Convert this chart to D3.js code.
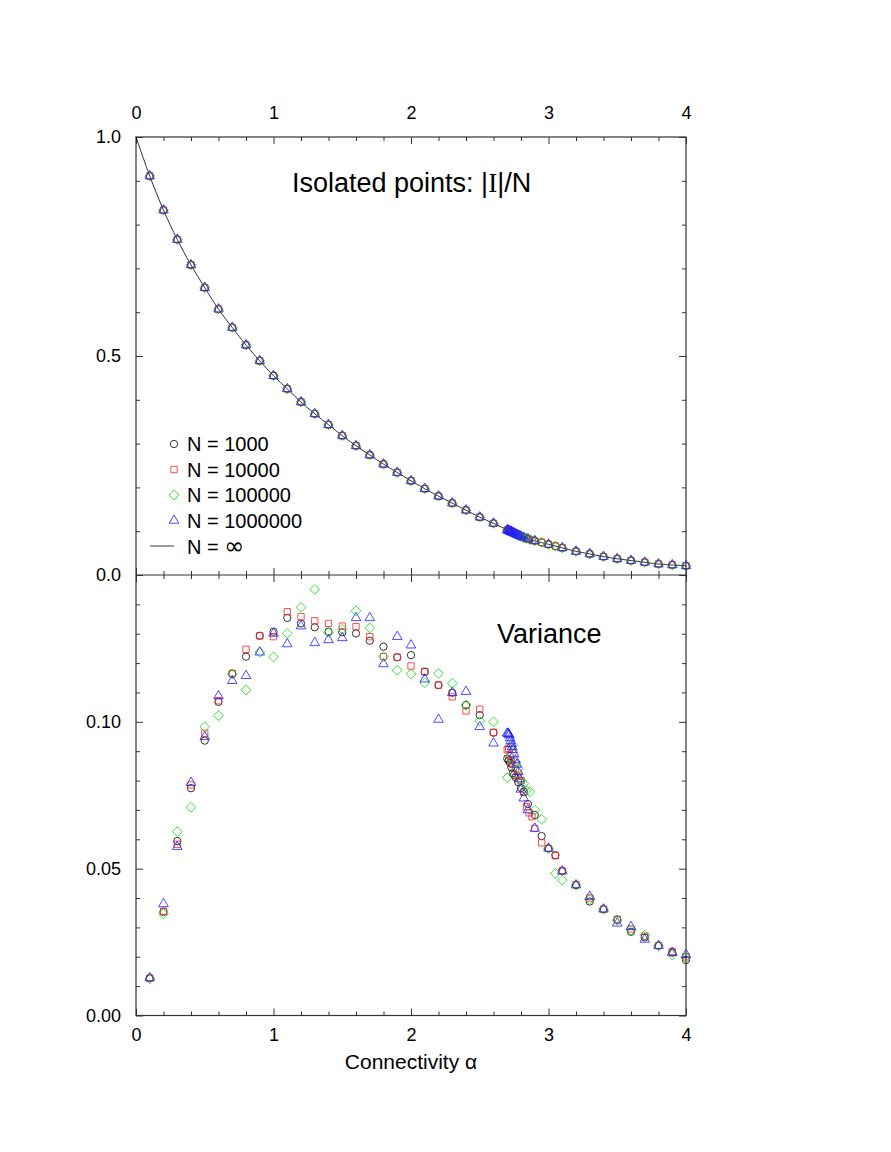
<!DOCTYPE html>
<html><head><meta charset="utf-8">
<script src="https://cdn.jsdelivr.net/npm/d3@7"></script>
<style>
body{margin:0;background:#fff}
svg{display:block}
text{font-family:"Liberation Sans",Arial,Helvetica,sans-serif;fill:#000}
</style>
</head><body>
<svg id="c" width="891" height="1152"></svg>
<script>
// ---------- DATA ----------
const alphaBase = [0.1,0.2,0.3,0.4,0.5,0.6,0.7,0.8,0.9,1.0,1.1,1.2,1.3,1.4,1.5,1.6,1.7,1.8,1.9,2.0,
                   2.1,2.2,2.3,2.4,2.5,2.6,2.7,2.8,2.9,3.0,3.1,3.2,3.3,3.4,3.5,3.6,3.7,3.8,3.9,4.0];
const isolatedBase = [.911,.833,.766,.708,.656,.607,.565,.525,.489,.455,.425,.395,.368,.343,.318,.295,.274,.253,.234,.215,
                      .197,.180,.164,.148,.132,.118,.103,.088,.078,.070,.062,.054,.048,.042,.037,.033,.029,.025,.023,.021];
const varN1e3 = [.0127,.0353,.0594,.0774,.0936,.1068,.1163,.1222,.1293,.1307,.1354,.1335,.1322,.1307,.1305,.1301,.1276,.1256,.1220,.1227,
                 .1170,.1125,.1099,.1057,.1023,.0963,.0875,.0775,.0683,.0569,.0492,.0444,.0388,.0362,.0325,.0285,.0266,.0238,.0214,.0189];
const varN1e4 = [.0127,.0355,.0583,.0785,.0961,.1072,.1165,.1247,.1293,.1290,.1375,.1358,.1344,.1335,.1326,.1324,.1290,.1222,.1220,.1190,
                 .1172,.1125,.1085,.1037,.1043,.0964,.0905,.0800,.0637,.0569,.0492,.0446,.0400,.0362,.0328,.0295,.0270,.0238,.0218,.0200];
const varN1e5 = [.0125,.0346,.0626,.0709,.0983,.1021,.1163,.1108,.1237,.1221,.1301,.1390,.1451,.1305,.1315,.1378,.1320,.1222,.1176,.1163,
                 .1133,.1165,.1131,.1057,.1003,.1000,.0810,.0800,.0700,.0569,.0461,.0444,.0395,.0362,.0325,.0290,.0274,.0238,.0206,.0196];
const varN1e6 = [.0128,.0380,.0575,.0793,.0949,.1088,.1140,.1157,.1237,.1301,.1265,.1326,.1269,.1279,.1286,.1354,.1354,.1197,.1290,.1261,
                 .1145,.1008,.1099,.1103,.0983,.0927,.0961,.0770,.0637,.0569,.0492,.0444,.0405,.0362,.0314,.0302,.0259,.0238,.0214,.0207];

// extra points near the critical connectivity
const alphaX1e3 = [2.71,2.72,2.73,2.74,2.75,2.76,2.78,2.82,2.85,2.95,3.05];
const isoX1e3   = [.1015,.100,.0985,.097,.0955,.094,.091,.0858,.0825,.0745,.066];
const varX1e3   = [.0868,.0860,.0845,.0825,.0820,.0812,.0795,.0762,.0720,.0611,.0546];
const alphaX1e4 = [2.71,2.72,2.73,2.74,2.76,2.78,2.82,2.84,2.86,2.88,2.95,3.05];
const isoX1e4   = [.1015,.100,.0985,.097,.094,.091,.0858,.0835,.0815,.0795,.0745,.066];
const varX1e4   = [.0910,.0885,.0870,.0855,.0840,.0815,.0760,.0711,.0690,.0677,.0588,.0544];
const alphaX1e5 = [2.72,2.74,2.76,2.78,2.82,2.84,2.865,2.95,3.05];
const isoX1e5   = [.100,.097,.094,.091,.0858,.0835,.081,.0745,.066];
const varX1e5   = [.0880,.0920,.0860,.0840,.0790,.0765,.0762,.0668,.0484];
const alphaX1e6 = [2.705,2.71,2.715,2.72,2.725,2.73,2.735,2.74,2.75,2.76,2.77,2.78,2.79,2.82,2.85];
const isoX1e6   = [.102,.1015,.1008,.100,.099,.0985,.0978,.097,.0955,.094,.0925,.091,.0897,.0858,.0825];
const varX1e6   = [.0960,.0958,.0955,.0945,.0935,.0925,.0915,.0905,.0890,.0870,.0855,.0830,.0805,.0740,.0700];

// N = infinity curve
const curveAlpha = [0].concat(alphaBase);
const curveIso   = [1.0].concat(isolatedBase);

const xTicksMajor = [0,1,2,3,4];
const topYTicks = [0,0.5,1.0];
const botYTicks = [0,0.05,0.10];
const legendLabels = ["N = 1000","N = 10000","N = 100000","N = 1000000"];

// ---------- DRAW ----------
const svg = d3.select("#c");
const L=136, R=686, T=137, M=575, B=1015.5;
const x  = d3.scaleLinear().domain([0,4]).range([L,R]);
const yT = d3.scaleLinear().domain([0,1]).range([M,T]);
const yB = d3.scaleLinear().domain([0,0.15]).range([B,M]);

const frameColor="#333";
function axis(gen, tr, vals, size, labels, fmt, pad){
  const g = svg.append("g").attr("transform",tr)
    .call(gen.tickValues(vals).tickSize(size).tickPadding(pad||3)
      .tickFormat(labels? fmt : ()=>""));
  g.select(".domain").remove();
  g.selectAll(".tick line").attr("stroke",frameColor).attr("stroke-width",1);
  g.selectAll("text").style("font-size","18px").attr("font-family",null);
  return g;
}
const minorX = d3.range(0,4.001,0.2).map(v=>+v.toFixed(1)).filter(v=>!xTicksMajor.includes(v));
const minorYT = d3.range(0,1.001,0.1).map(v=>+v.toFixed(1)).filter(v=>!topYTicks.includes(v));
const minorYB = d3.range(0,0.1501,0.01).map(v=>+v.toFixed(2)).filter(v=>![0,0.05,0.1,0.15].includes(v));
const majYB = [0,0.05,0.10,0.15];

// top x axis
axis(d3.axisTop(x), `translate(0,${T})`, xTicksMajor, -7, true, d3.format("d"), 18);
axis(d3.axisTop(x), `translate(0,${T})`, minorX, -4, false);
// middle
axis(d3.axisBottom(x), `translate(0,${M})`, xTicksMajor, -7, false);
axis(d3.axisBottom(x), `translate(0,${M})`, minorX, -4, false);
axis(d3.axisTop(x), `translate(0,${M})`, xTicksMajor, -7, false);
axis(d3.axisTop(x), `translate(0,${M})`, minorX, -4, false);
// bottom x
axis(d3.axisBottom(x), `translate(0,${B})`, xTicksMajor, -7, true, d3.format("d"), 13);
axis(d3.axisBottom(x), `translate(0,${B})`, minorX, -4, false);
// left / right top panel
axis(d3.axisLeft(yT), `translate(${L},0)`, topYTicks, -7, true, d3.format(".1f"), 15);
axis(d3.axisLeft(yT), `translate(${L},0)`, minorYT, -4, false);
axis(d3.axisRight(yT), `translate(${R},0)`, topYTicks, -7, false);
axis(d3.axisRight(yT), `translate(${R},0)`, minorYT, -4, false);
// left / right bottom panel
axis(d3.axisLeft(yB), `translate(${L},0)`, botYTicks, -7, true, d3.format(".2f"), 15);
axis(d3.axisLeft(yB), `translate(${L},0)`, majYB.slice(3), -7, false);
axis(d3.axisLeft(yB), `translate(${L},0)`, minorYB, -4, false);
axis(d3.axisRight(yB), `translate(${R},0)`, majYB, -7, false);
axis(d3.axisRight(yB), `translate(${R},0)`, minorYB, -4, false);

// frame
svg.append("rect").attr("x",L).attr("y",T).attr("width",R-L).attr("height",B-T)
  .attr("fill","none").attr("stroke",frameColor).attr("stroke-width",1.2);
svg.append("line").attr("x1",L).attr("x2",R).attr("y1",M).attr("y2",M)
  .attr("stroke",frameColor).attr("stroke-width",1.2);

// infinity curve
svg.append("path").datum(curveAlpha.map((a,i)=>[a,curveIso[i]]))
  .attr("d", d3.line().x(d=>x(d[0])).y(d=>yT(d[1])).curve(d3.curveMonotoneX))
  .attr("fill","none").attr("stroke","#000").attr("stroke-width",0.8);

// symbols
const diamondType = {draw(ctx,size){const r=Math.sqrt(size/2)*1.0; ctx.moveTo(0,-r);ctx.lineTo(r,0);ctx.lineTo(0,r);ctx.lineTo(-r,0);ctx.closePath();}};
const series = [
  {label:legendLabels[0], color:"#000000", type:d3.symbolCircle,   size:42, a:alphaBase, iso:isolatedBase, v:varN1e3, ax:alphaX1e3, isoX:isoX1e3, vx:varX1e3},
  {label:legendLabels[1], color:"#ff2020", type:d3.symbolSquare,   size:40, a:alphaBase, iso:isolatedBase, v:varN1e4, ax:alphaX1e4, isoX:isoX1e4, vx:varX1e4},
  {label:legendLabels[2], color:"#00e000", type:diamondType,       size:48, a:alphaBase, iso:isolatedBase, v:varN1e5, ax:alphaX1e5, isoX:isoX1e5, vx:varX1e5},
  {label:legendLabels[3], color:"#2020ff", type:d3.symbolTriangle, size:40, a:alphaBase, iso:isolatedBase, v:varN1e6, ax:alphaX1e6, isoX:isoX1e6, vx:varX1e6}
];
series.forEach(s=>{
  const sym = d3.symbol().type(s.type).size(s.size)();
  const topPts = s.a.map((a,i)=>[a,s.iso[i]]).concat(s.ax.map((a,i)=>[a,s.isoX[i]]));
  const botPts = s.a.map((a,i)=>[a,s.v[i]]).concat(s.ax.map((a,i)=>[a,s.vx[i]]));
  const g = svg.append("g").attr("fill","none").attr("stroke",s.color).attr("stroke-width",0.8);
  g.selectAll("path.t").data(topPts).join("path").attr("class","t").attr("d",sym)
    .attr("transform",d=>`translate(${x(d[0])},${yT(d[1])})`);
  g.selectAll("path.b").data(botPts).join("path").attr("class","b").attr("d",sym)
    .attr("transform",d=>`translate(${x(d[0])},${yB(d[1])})`);
});

// legend
const legY = [444,469.5,495,520.5];
series.forEach((s,i)=>{
  svg.append("path").attr("d",d3.symbol().type(s.type).size(s.size)())
    .attr("transform",`translate(174,${legY[i]})`).attr("fill","none")
    .attr("stroke",s.color).attr("stroke-width",0.8);
  svg.append("text").attr("x",187).attr("y",legY[i]+7).style("font-size","20px").text(s.label);
});
svg.append("line").attr("x1",150).attr("x2",174).attr("y1",546).attr("y2",546)
  .attr("stroke","#000").attr("stroke-width",0.8);
const inf = svg.append("text").attr("x",187).attr("y",553.5).style("font-size","20px");
inf.append("tspan").text("N = ");
inf.append("tspan").style("font-size","24px").attr("font-family","DejaVu Sans").text("∞");

// titles
const t1 = svg.append("text").attr("x",292).attr("y",192).style("font-size","27px");
t1.append("tspan").text("Isolated points: |");
t1.append("tspan").style("font-family","'Liberation Serif',serif").text("I");
t1.append("tspan").text("|/N");
svg.append("text").attr("x",497).attr("y",643).style("font-size","27px").text("Variance");
const xl = svg.append("text").attr("x",411).attr("y",1069).attr("text-anchor","middle").style("font-size","21px");
xl.append("tspan").text("Connectivity ");
xl.append("tspan").text("α");
</script>
</body></html>
